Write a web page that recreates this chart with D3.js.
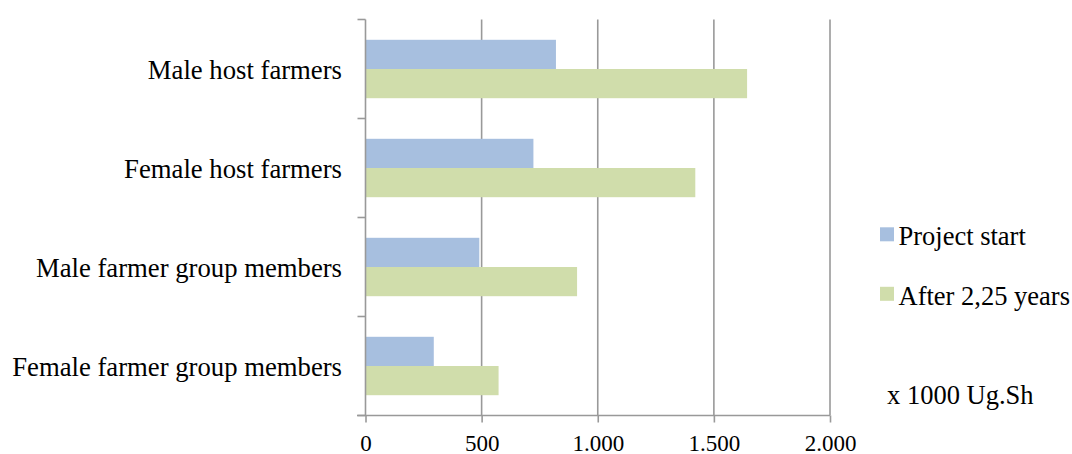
<!DOCTYPE html>
<html><head><meta charset="utf-8">
<script src="https://cdn.jsdelivr.net/npm/d3@7"></script>
<style>body{margin:0;background:#fff;}</style>
</head>
<body><svg id="c" width="1072" height="454"></svg>
<script>
const categories = ["Male host farmers","Female host farmers","Male farmer group members","Female farmer group members"];
const seriesNames = ["Project start","After 2,25 years"];
const projectStart = [820, 723, 490, 294];
const after225 = [1643, 1420, 911, 573];
const xTicks = [0,500,1000,1500,2000];
const xTickLabels = ["0","500","1.000","1.500","2.000"];
const unitLabel = "x 1000 Ug.Sh";
const colors = ["#A7BFDF","#D0DDAB"];

(function(){
const FONT = '"Liberation Serif", "Times New Roman", serif';
const svg = d3.select("#c");
const pL = 365.5, pR = 830, pT = 19.5, pB = 415.5;
const x = d3.scaleLinear().domain([0,2000]).range([pL,pR]);
const y = d3.scaleBand().domain(categories).range([pT,pB]).paddingInner(0.41).paddingOuter(0.205);
const y0 = d3.scaleBand().domain(categories).range([pT,pB]);
const sub = d3.scaleBand().domain(seriesNames).range([0,y.bandwidth()]);

// gridlines
svg.append("g").selectAll("line").data(xTicks.slice(1)).join("line")
  .attr("x1",d=>x(d)).attr("x2",d=>x(d)).attr("y1",pT).attr("y2",pB)
  .attr("stroke","#999").attr("stroke-width",1.6);

// bars
const series = [projectStart, after225];
series.forEach((vals,si)=>{
  svg.append("g").selectAll("rect").data(vals).join("rect")
    .attr("x",x(0)).attr("y",(d,i)=>y(categories[i])+sub(seriesNames[si]))
    .attr("width",d=>x(d)-x(0)).attr("height",sub.bandwidth())
    .attr("fill",colors[si]);
});

// x axis
const xa = svg.append("g").attr("transform",`translate(0,${pB})`)
  .call(d3.axisBottom(x).tickValues(xTicks).tickFormat((d,i)=>xTickLabels[i]).tickSize(7).tickPadding(12));
xa.select(".domain").remove();
xa.append("line").attr("x1",357).attr("x2",pR).attr("y1",0).attr("y2",0).attr("stroke","#999").attr("stroke-width",1.6);
xa.selectAll(".tick line").attr("stroke","#999").attr("stroke-width",1.6);
xa.selectAll(".tick text").style("font-family",FONT).style("font-size","23px").attr("fill","#000");

// y axis
const ya = svg.append("g").attr("transform",`translate(${pL},0)`)
  .call(d3.axisLeft(y0).tickSize(0).tickPadding(23.5));
ya.select(".domain").remove();
ya.append("line").attr("x1",0).attr("x2",0).attr("y1",pT).attr("y2",pB).attr("stroke","#999").attr("stroke-width",1.6);
const bounds = [pT].concat(categories.map(c=>y0(c)+y0.bandwidth()));
ya.selectAll(".bt").data(bounds).join("line").attr("class","bt")
  .attr("x1",-8).attr("x2",0).attr("y1",d=>d).attr("y2",d=>d).attr("stroke","#999").attr("stroke-width",1.6);
ya.selectAll(".tick text").style("font-family",FONT).style("font-size","26.7px").attr("fill","#000").attr("dy","0.39em");

// legend
const lg = svg.append("g");
seriesNames.forEach((s,i)=>{
  const yy = 227.3 + i*59.5;
  lg.append("rect").attr("x",880).attr("y",yy).attr("width",14).attr("height",14).attr("fill",colors[i]);
  lg.append("text").attr("x",898.5).attr("y",yy+18).style("font-family",FONT).style("font-size","26.5px").attr("fill","#000").text(s);
});
svg.append("text").attr("x",887).attr("y",404.3).style("font-family",FONT).style("font-size","26.5px").attr("fill","#000").text(unitLabel);
})();
</script></body></html>
